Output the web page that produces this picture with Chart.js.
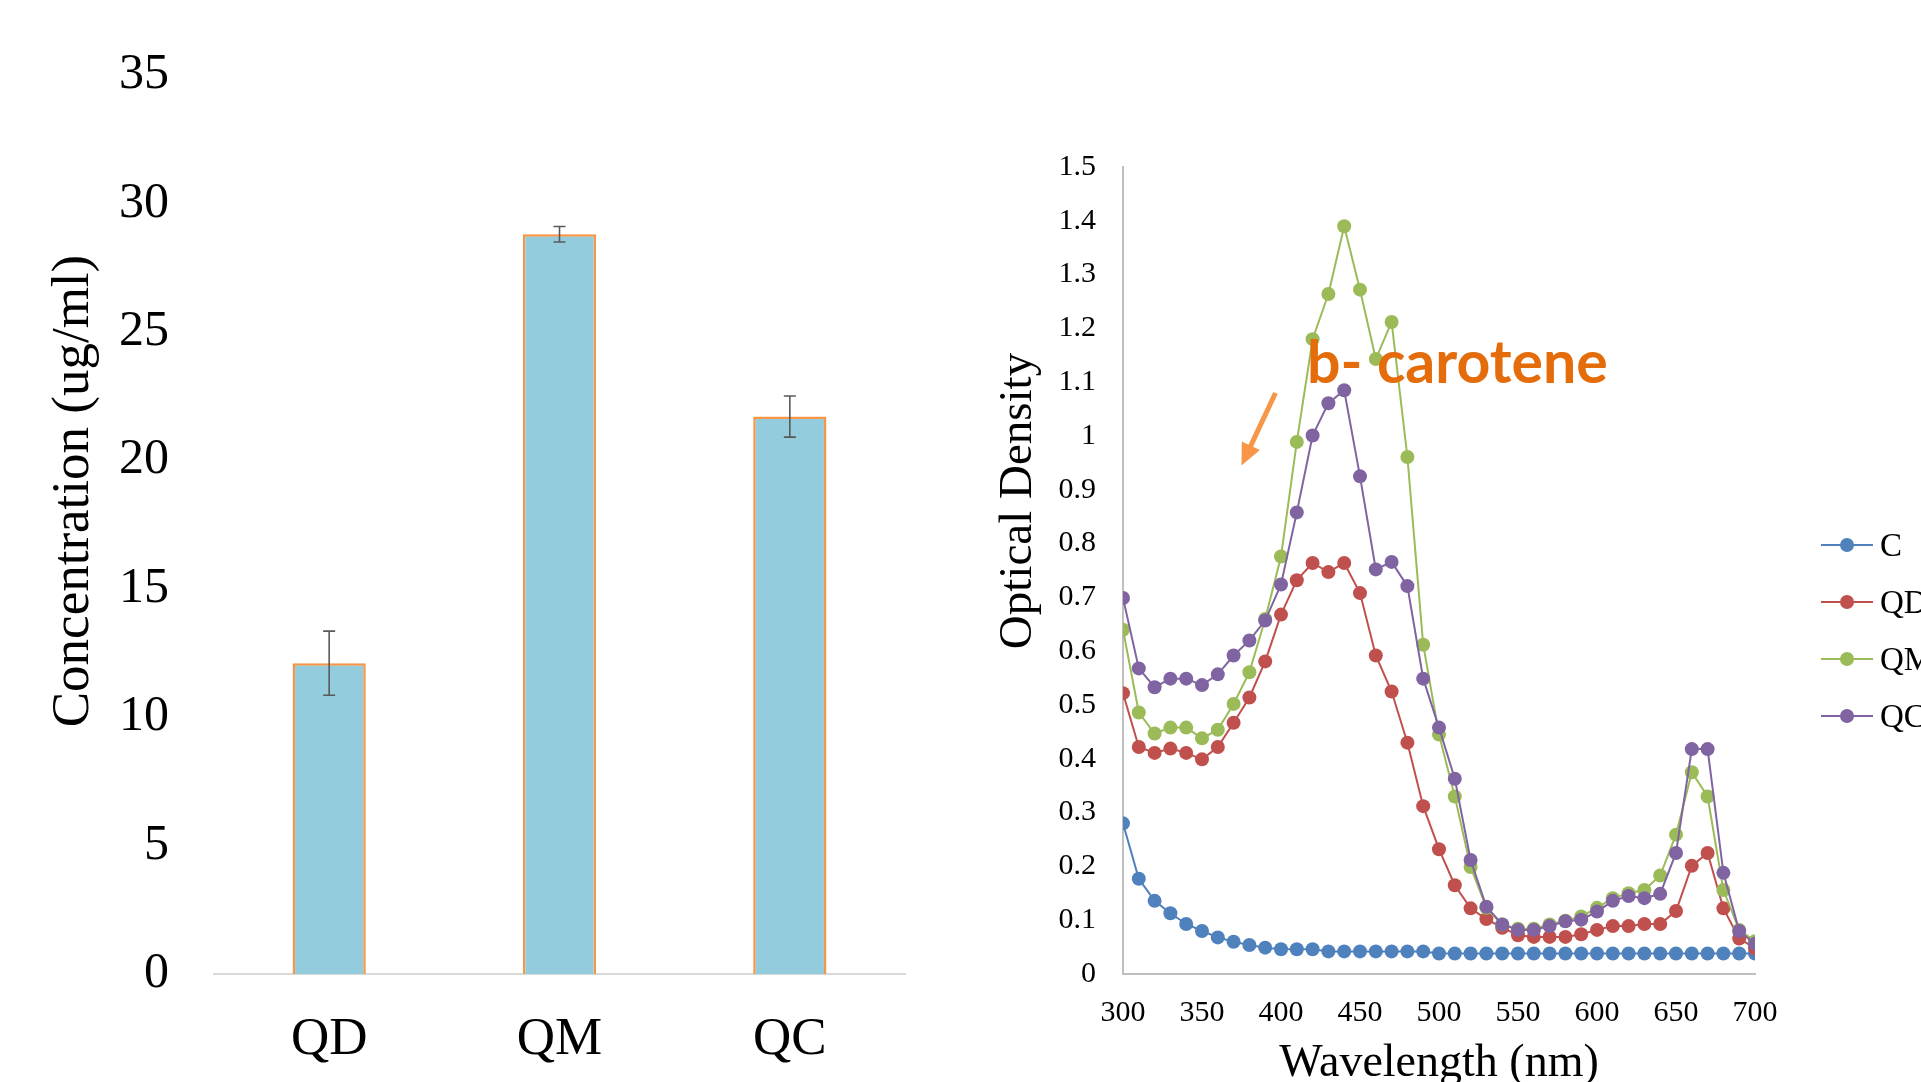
<!DOCTYPE html>
<html>
<head>
<meta charset="utf-8">
<script src="https://cdn.jsdelivr.net/npm/chart.js@4/dist/chart.umd.min.js"></script>
<style>
  html, body { margin: 0; padding: 0; background: #fff; overflow: hidden; }
  #barChart { position: absolute; left: 0; top: 0; }
  #lineChart { position: absolute; left: 960px; top: 0; }
</style>
</head>
<body>
<canvas id="barChart" width="960" height="1082"></canvas>
<canvas id="lineChart" width="961" height="1082"></canvas>
<script>
// bar chart data
const barLabels = ['QD', 'QM', 'QC'];
const barValues = [12.1, 28.8, 21.7];
const barErrors = [1.25, 0.3, 0.8];

// absorption spectra
const wavelengths = [300, 310, 320, 330, 340, 350, 360, 370, 380, 390, 400,
    410, 420, 430, 440, 450, 460, 470, 480, 490, 500,
    510, 520, 530, 540, 550, 560, 570, 580, 590, 600,
    610, 620, 630, 640, 650, 660, 670, 680, 690, 700];
const seriesNames = ['C', 'QD', 'QM', 'QC'];
const odC = [0.28, 0.177, 0.136, 0.113, 0.093, 0.080, 0.068, 0.060, 0.054, 0.049, 0.046,
    0.046, 0.046, 0.042, 0.042, 0.042, 0.042, 0.042, 0.042, 0.042, 0.038,
    0.038, 0.038, 0.038, 0.038, 0.038, 0.038, 0.038, 0.038, 0.038, 0.038,
    0.038, 0.038, 0.038, 0.038, 0.038, 0.038, 0.038, 0.038, 0.038, 0.038];
const odQD = [0.522, 0.422, 0.411, 0.419, 0.411, 0.399, 0.422, 0.467, 0.514, 0.581, 0.668,
    0.732, 0.764, 0.747, 0.764, 0.708, 0.592, 0.525, 0.430, 0.312, 0.232,
    0.165, 0.122, 0.102, 0.086, 0.072, 0.069, 0.069, 0.069, 0.074, 0.082,
    0.089, 0.089, 0.093, 0.093, 0.117, 0.201, 0.225, 0.122, 0.066, 0.048];
const odQM = [0.640, 0.486, 0.447, 0.458, 0.458, 0.438, 0.454, 0.502, 0.561, 0.660, 0.776,
    0.989, 1.180, 1.264, 1.390, 1.272, 1.143, 1.212, 0.961, 0.612, 0.445,
    0.330, 0.199, 0.123, 0.092, 0.084, 0.084, 0.092, 0.099, 0.107, 0.123,
    0.141, 0.150, 0.156, 0.183, 0.259, 0.375, 0.330, 0.156, 0.082, 0.061];
const odQC = [0.699, 0.568, 0.533, 0.549, 0.549, 0.537, 0.557, 0.592, 0.620, 0.657, 0.724,
    0.858, 1.001, 1.061, 1.085, 0.925, 0.752, 0.766, 0.721, 0.549, 0.458,
    0.363, 0.212, 0.125, 0.092, 0.082, 0.082, 0.089, 0.098, 0.101, 0.116,
    0.136, 0.145, 0.141, 0.149, 0.225, 0.418, 0.418, 0.188, 0.080, 0.056];
const seriesColors = ['#4F81BD', '#C0504D', '#9BBB59', '#8064A2'];

Chart.defaults.font.family = "'Liberation Serif', 'Times New Roman', serif";
Chart.defaults.color = '#000';

// vertical axis title drawn by hand so it can sit off-centre like the original
function yTitlePlugin(text, x, y, size) {
    return {
        id: 'yTitle',
        afterDraw(chart) {
            const ctx = chart.ctx;
            ctx.save();
            ctx.translate(x, y);
            ctx.rotate(-Math.PI / 2);
            ctx.font = size + "px 'Liberation Serif', serif";
            ctx.fillStyle = '#000';
            ctx.textAlign = 'center';
            ctx.textBaseline = 'middle';
            ctx.fillText(text, 0, 0);
            ctx.restore();
        }
    };
}

const errorBars = {
    id: 'errorBars',
    afterDatasetsDraw(chart) {
        const ctx = chart.ctx;
        const yScale = chart.scales.y;
        const meta = chart.getDatasetMeta(0);
        ctx.save();
        ctx.strokeStyle = '#595959';
        ctx.lineWidth = 1.6;
        meta.data.forEach((bar, i) => {
            const hi = yScale.getPixelForValue(barValues[i] + barErrors[i]);
            const lo = yScale.getPixelForValue(barValues[i] - barErrors[i]);
            ctx.beginPath();
            ctx.moveTo(bar.x, hi); ctx.lineTo(bar.x, lo);
            ctx.moveTo(bar.x - 6, hi); ctx.lineTo(bar.x + 6, hi);
            ctx.moveTo(bar.x - 6, lo); ctx.lineTo(bar.x + 6, lo);
            ctx.stroke();
        });
        ctx.restore();
    }
};

new Chart(document.getElementById('barChart'), {
    type: 'bar',
    data: {
        labels: barLabels,
        datasets: [{
            data: barValues,
            backgroundColor: '#93CDDD',
            borderColor: '#F79646',
            borderWidth: 2.5,
            categoryPercentage: 1,
            barPercentage: 0.318
        }]
    },
    options: {
        responsive: false,
        animation: false,
        layout: { padding: { top: 71, right: 55, left: 0, bottom: 0 } },
        plugins: { legend: { display: false }, tooltip: { enabled: false } },
        scales: {
            x: {
                grid: { display: false, drawTicks: false },
                border: { display: true, color: '#D9D9D9', width: 2 },
                ticks: { font: { size: 53 }, padding: 34 },
                afterFit: s => { s.height = 108; }
            },
            y: {
                min: 0, max: 35,
                grid: { display: false, drawTicks: false },
                border: { display: false },
                ticks: { stepSize: 5, font: { size: 50 }, padding: 45 },
                afterFit: s => { s.width = 214; }
            }
        }
    },
    plugins: [errorBars, yTitlePlugin('Concentration (ug/ml)', 74, 491, 53)]
});

const legendPlugin = {
    id: 'sideLegend',
    afterDraw(chart) {
        const ctx = chart.ctx;
        const x0 = chart.chartArea.right + 66;
        ctx.save();
        ctx.font = "33px 'Liberation Serif', serif";
        ctx.textBaseline = 'middle';
        chart.data.datasets.forEach((ds, i) => {
            const y = 545 + i * 57;
            ctx.strokeStyle = ds.borderColor;
            ctx.lineWidth = 2;
            ctx.beginPath();
            ctx.moveTo(x0, y); ctx.lineTo(x0 + 52, y);
            ctx.stroke();
            ctx.fillStyle = ds.borderColor;
            ctx.beginPath();
            ctx.arc(x0 + 26, y, 7, 0, Math.PI * 2);
            ctx.fill();
            ctx.fillStyle = '#000';
            ctx.fillText(ds.label, x0 + 59, y + 2);
        });
        ctx.restore();
    }
};

// b-carotene label and arrow, placed in data coordinates
const annotation = {
    id: 'carotene',
    afterDraw(chart) {
        const { x, y } = chart.scales;
        const ctx = chart.ctx;
        ctx.save();
        const x1 = x.getPixelForValue(396.5), y1 = y.getPixelForValue(1.080);
        const x2 = x.getPixelForValue(375), y2 = y.getPixelForValue(0.945);
        const ang = Math.atan2(y2 - y1, x2 - x1);
        ctx.strokeStyle = '#F79646';
        ctx.fillStyle = '#F79646';
        ctx.lineWidth = 5;
        ctx.beginPath();
        ctx.moveTo(x1, y1);
        ctx.lineTo(x2 - 14 * Math.cos(ang), y2 - 14 * Math.sin(ang));
        ctx.stroke();
        ctx.beginPath();
        ctx.moveTo(x2, y2);
        ctx.lineTo(x2 - 22 * Math.cos(ang) + 10 * Math.sin(ang), y2 - 22 * Math.sin(ang) - 10 * Math.cos(ang));
        ctx.lineTo(x2 - 22 * Math.cos(ang) - 10 * Math.sin(ang), y2 - 22 * Math.sin(ang) + 10 * Math.cos(ang));
        ctx.closePath();
        ctx.fill();
        ctx.fillStyle = '#E46C0A';
        ctx.font = "bold 59px Lato, 'Open Sans', sans-serif";
        ctx.textBaseline = 'alphabetic';
        ctx.fillText('b- carotene', x.getPixelForValue(416.5), y.getPixelForValue(1.098));
        ctx.restore();
    }
};

const seriesData = [odC, odQD, odQM, odQC];
new Chart(document.getElementById('lineChart'), {
    type: 'line',
    data: {
        datasets: seriesNames.map((name, i) => ({
            label: name,
            data: wavelengths.map((w, j) => ({ x: w, y: seriesData[i][j] })),
            borderColor: seriesColors[i],
            backgroundColor: seriesColors[i],
            borderWidth: 2,
            pointRadius: 7,
            pointBorderWidth: 0,
            tension: 0,
            order: seriesNames.length - i
        }))
    },
    options: {
        responsive: false,
        animation: false,
        layout: { padding: { top: 167, right: 166, left: 0, bottom: 0 } },
        plugins: { legend: { display: false }, tooltip: { enabled: false } },
        scales: {
            x: {
                type: 'linear', min: 300, max: 700,
                grid: { display: false, drawTicks: false },
                border: { display: true, color: '#BFBFBF', width: 2 },
                ticks: { stepSize: 50, font: { size: 30 }, padding: 21 },
                title: {
                    display: true, text: 'Wavelength (nm)',
                    font: { size: 46, lineHeight: 1 },
                    padding: { top: 0, bottom: -5 }
                },
                afterFit: s => { s.height = 108; }
            },
            y: {
                min: 0, max: 1.5,
                grid: { display: false, drawTicks: false },
                border: { display: true, color: '#BFBFBF', width: 2 },
                ticks: {
                    stepSize: 0.1, font: { size: 30 }, padding: 27,
                    callback: v => String(Math.round(v * 10) / 10)
                },
                afterFit: s => { s.width = 163; }
            }
        }
    },
    plugins: [legendPlugin, annotation, yTitlePlugin('Optical Density', 59, 501, 47)]
});
</script>
</body>
</html>
